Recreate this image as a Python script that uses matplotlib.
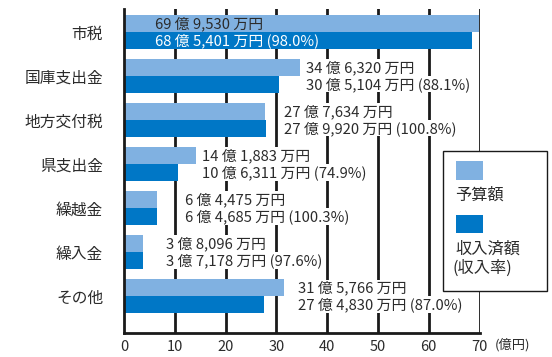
import matplotlib
matplotlib.use("Agg")
import matplotlib.pyplot as plt
from matplotlib.patches import Rectangle

plt.rcParams['font.family'] = ['Noto Sans CJK JP', 'DejaVu Sans']

categories = ["市税", "国庫支出金", "地方交付税", "県支出金", "繰越金", "繰入金", "その他"]
budget = [69.9530, 34.6320, 27.7634, 14.1883, 6.4475, 3.8096, 31.5766]
actual = [68.5401, 30.5104, 27.9920, 10.6311, 6.4685, 3.7178, 27.4830]
budget_labels = ["69 億 9,530 万円", "34 億 6,320 万円", "27 億 7,634 万円", "14 億 1,883 万円",
                 "6 億 4,475 万円", "3 億 8,096 万円", "31 億 5,766 万円"]
actual_labels = ["68 億 5,401 万円 (98.0%)", "30 億 5,104 万円 (88.1%)", "27 億 9,920 万円 (100.8%)",
                 "10 億 6,311 万円 (74.9%)", "6 億 4,685 万円 (100.3%)", "3 億 7,178 万円 (97.6%)",
                 "27 億 4,830 万円 (87.0%)"]
xticks = [0, 10, 20, 30, 40, 50, 60, 70]

# label anchor positions (layout)
label_x = [6.1, 35.8, 31.4, 15.3, 12.0, 8.2, 34.3]

LIGHT = "#80b1e1"
DARK = "#0077c6"
TXT = "#2b2b2b"
FS = 10.7

W, H = 552, 357
fig = plt.figure(figsize=(W / 100, H / 100), dpi=100)
ax = fig.add_axes([124 / W, 1 - 333 / H, (479.6 - 124) / W, (333 - 9) / H])

h = 0.38
ys = list(range(len(categories)))
ax.barh([y - h / 2 for y in ys], budget, height=h, color=LIGHT, zorder=3)
ax.barh([y + h / 2 for y in ys], actual, height=h, color=DARK, zorder=3)

ax.set_xlim(0, 70)
ax.set_ylim(6.84, -0.52)
ax.set_xticks(xticks)
ax.set_xticklabels([str(t) for t in xticks], fontsize=10.5, color=TXT)
ax.set_yticks(ys)
ax.set_yticklabels(categories, fontsize=11.3, color=TXT)
ax.tick_params(axis='both', length=0)
ax.tick_params(axis='x', pad=5)
ax.tick_params(axis='y', pad=15)

for t in xticks[1:]:
    ax.axvline(t, color="#1a1a1a", lw=2.0, zorder=1)
for s in ["top", "right"]:
    ax.spines[s].set_visible(False)
for s in ["left", "bottom"]:
    ax.spines[s].set_color("#1a1a1a")
    ax.spines[s].set_linewidth(2.0)
    ax.spines[s].set_zorder(4)

for i, y in enumerate(ys):
    if i == 0:
        ax.text(label_x[i], y - h / 2, budget_labels[i], fontsize=FS, color=TXT,
                va='center', ha='left', zorder=5)
        ax.text(label_x[i], y + h / 2, actual_labels[i], fontsize=FS, color='white',
                va='center', ha='left', zorder=5)
    else:
        bb = dict(facecolor='white', edgecolor='none', pad=0.5)
        ax.text(label_x[i], y - h / 2, budget_labels[i], fontsize=FS, color=TXT,
                va='center', ha='left', zorder=2, bbox=bb)
        ax.text(label_x[i], y + h / 2, actual_labels[i], fontsize=FS, color=TXT,
                va='center', ha='left', zorder=2, bbox=bb)

fig.text(495 / 552, 1 - 345 / H, "(億円)", fontsize=9.5, color=TXT, va='center', ha='left')

# legend box
def fx(x):
    return x / W

def fy(y):
    return 1 - y / H

fig.add_artist(Rectangle((fx(443), fy(291)), (547 - 443) / W, (291 - 151) / H,
                         transform=fig.transFigure, facecolor='white', edgecolor='#1a1a1a',
                         lw=1.0, zorder=10))
fig.add_artist(Rectangle((fx(456), fy(180)), 27 / W, 19 / H, transform=fig.transFigure,
                         facecolor=LIGHT, edgecolor='none', zorder=11))
fig.add_artist(Rectangle((fx(456), fy(233)), 27 / W, 18 / H, transform=fig.transFigure,
                         facecolor=DARK, edgecolor='none', zorder=11))
fig.text(fx(455), fy(195), "予算額", fontsize=11.7, color=TXT, va='center', ha='left', zorder=12)
fig.text(fx(455), fy(249), "収入済額", fontsize=11.7, color=TXT, va='center', ha='left', zorder=12)
fig.text(fx(453), fy(268), "(収入率)", fontsize=11.7, color=TXT, va='center', ha='left', zorder=12)

fig.savefig("out.png", dpi=100)
